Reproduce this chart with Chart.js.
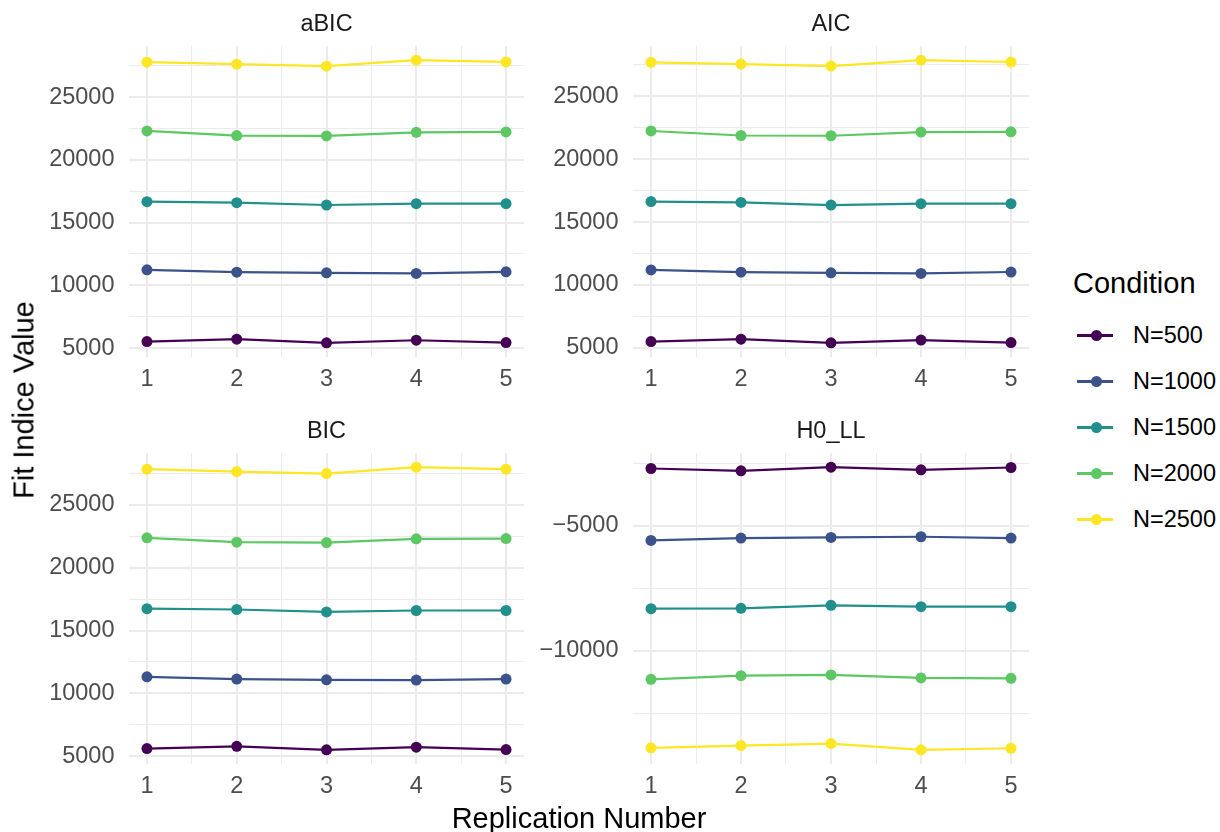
<!DOCTYPE html>
<html>
<head>
<meta charset="utf-8">
<title>Fit indices by replication</title>
<script src="https://cdn.jsdelivr.net/npm/chart.js@4.4.1/dist/chart.umd.min.js"></script>
<style>
  html, body { margin: 0; padding: 0; background: #fff; }
  body {
    width: 1220px; height: 832px; position: relative; overflow: hidden;
    font-family: 'Liberation Sans', Arial, sans-serif;
  }
  canvas { position: absolute; }
  .strip {
    position: absolute; font-size: 23.5px; line-height: 23.5px; color: #1a1a1a;
    transform: translateX(-50%); white-space: nowrap;
  }
  .axis-title { position: absolute; font-size: 29px; line-height: 29px; color: #000; white-space: nowrap; }
  #ytitle { left: 24px; top: 400px; transform: translate(-50%, -50%) rotate(-90deg); }
  #xtitle { left: 579px; top: 804px; transform: translateX(-50%); }
  #legendTitle { left: 1073px; top: 269px; }
  .key-line { position: absolute; left: 1077px; width: 36px; height: 2.2px; }
  .key-dot { position: absolute; left: 1090.5px; width: 11px; height: 11px; border-radius: 50%; }
  .key-label { position: absolute; left: 1133px; font-size: 23.5px; line-height: 23.5px; color: #000; white-space: nowrap; }
</style>
</head>
<body>
<canvas id="c_aBIC"></canvas>
<canvas id="c_AIC"></canvas>
<canvas id="c_BIC"></canvas>
<canvas id="c_H0_LL"></canvas>

<div class="strip" style="left:326.5px; top:12px">aBIC</div>
<div class="strip" style="left:831px; top:12px">AIC</div>
<div class="strip" style="left:326.5px; top:418.5px">BIC</div>
<div class="strip" style="left:831px; top:418.5px">H0_LL</div>

<div class="axis-title" id="ytitle">Fit Indice Value</div>
<div class="axis-title" id="xtitle">Replication Number</div>
<div class="axis-title" id="legendTitle">Condition</div>
<div id="legend"></div>

<script>
const replications = [1, 2, 3, 4, 5]
const conditions = ['N=500', 'N=1000', 'N=1500', 'N=2000', 'N=2500']
const palette = ['#440154', '#3B528B', '#21908C', '#5DC863', '#FDE725']

// one row per condition, one value per replication
const aBIC = [
  [5520, 5710, 5420, 5630, 5440],
  [11240, 11050, 11000, 10950, 11080],
  [16670, 16590, 16400, 16510, 16510],
  [22300, 21930, 21900, 22190, 22220],
  [27780, 27620, 27460, 27940, 27800]
]
const AIC = [
  [5500, 5690, 5400, 5620, 5420],
  [11200, 11020, 10970, 10920, 11030],
  [16630, 16560, 16350, 16460, 16460],
  [22240, 21880, 21860, 22150, 22170],
  [27700, 27560, 27400, 27870, 27720]
]
const BIC = [
  [5610, 5790, 5510, 5720, 5530],
  [11320, 11140, 11080, 11060, 11140],
  [16740, 16670, 16480, 16590, 16590],
  [22370, 22020, 21990, 22290, 22310],
  [27830, 27640, 27480, 27990, 27830]
]
const H0_LL = [
  [-2714, -2806, -2660, -2766, -2674],
  [-5585, -5492, -5465, -5439, -5492],
  [-8311, -8298, -8178, -8231, -8231],
  [-11130, -10984, -10957, -11077, -11090],
  [-13867, -13775, -13696, -13947, -13883]
]

const xMajor = [1, 2, 3, 4, 5]
const xMinor = [1.5, 2.5, 3.5, 4.5]
const icMajor = [5000, 10000, 15000, 20000, 25000]
const icMinor = [7500, 12500, 17500, 22500, 27500]
const llMajor = [-10000, -5000]
const llMinor = [-12500, -7500, -2500]

Chart.defaults.font.family = "'Liberation Sans', Arial, sans-serif"

const GRID = '#EBEBEB'
const TICK = '#4D4D4D'
const FONT = { size: 23.5 }

function range(values) {
  const flat = values.flat()
  const lo = Math.min(...flat)
  const hi = Math.max(...flat)
  const pad = (hi - lo) * 0.05
  return [lo - pad, hi + pad]
}

function fmt(v) {
  return v < 0 ? '\u2212' + Math.abs(v) : String(v)
}

// box: canvas position/size on page + plot area inside canvas
function makePanel(id, values, major, minor, box) {
  const el = document.getElementById(id)
  el.width = box.w
  el.height = box.h
  el.style.left = box.x + 'px'
  el.style.top = box.y + 'px'
  el.style.width = box.w + 'px'
  el.style.height = box.h + 'px'

  const [ymin, ymax] = range(values)
  const datasets = conditions.map((name, i) => ({
    label: name,
    data: replications.map((r, j) => ({ x: r, y: values[i][j] })),
    borderColor: palette[i],
    backgroundColor: palette[i],
    pointBackgroundColor: palette[i],
    borderWidth: 2.2,
    pointRadius: 5.5,
    pointBorderWidth: 0,
    tension: 0
  }))

  return new Chart(el.getContext('2d'), {
    type: 'line',
    data: { datasets },
    options: {
      responsive: false,
      animation: false,
      events: [],
      layout: { padding: { left: 0, top: box.top, right: box.w - box.right, bottom: 0 } },
      plugins: { legend: { display: false }, tooltip: { enabled: false } },
      scales: {
        x: {
          type: 'linear',
          min: 0.8,
          max: 5.2,
          afterBuildTicks: (ax) => {
            ax.ticks = [...xMajor, ...xMinor].sort((a, b) => a - b).map(v => ({ value: v }))
          },
          afterFit: (ax) => { ax.height = box.h - box.bottom },
          border: { display: false },
          grid: {
            color: GRID,
            drawTicks: false,
            lineWidth: (c) => (xMajor.includes(c.tick.value) ? 2 : 1)
          },
          ticks: {
            autoSkip: false,
            maxRotation: 0,
            padding: 8,
            color: TICK,
            font: FONT,
            callback: (v) => (xMajor.includes(v) ? String(v) : '')
          }
        },
        y: {
          type: 'linear',
          min: ymin,
          max: ymax,
          afterBuildTicks: (ax) => {
            ax.ticks = [...major, ...minor].sort((a, b) => a - b).map(v => ({ value: v }))
          },
          afterFit: (ax) => { ax.width = box.left },
          border: { display: false },
          grid: {
            color: GRID,
            drawTicks: false,
            lineWidth: (c) => (major.includes(c.tick.value) ? 2 : 1)
          },
          ticks: {
            autoSkip: false,
            padding: 14.5,
            color: TICK,
            font: FONT,
            callback: (v) => (major.includes(v) ? fmt(v) : '')
          }
        }
      }
    }
  })
}

function buildLegend() {
  const root = document.getElementById('legend')
  conditions.forEach((name, i) => {
    const cy = 335.5 + i * 46
    const line = document.createElement('div')
    line.className = 'key-line'
    line.style.top = (cy - 1.1) + 'px'
    line.style.background = palette[i]
    const dot = document.createElement('div')
    dot.className = 'key-dot'
    dot.style.top = (cy - 5.5) + 'px'
    dot.style.background = palette[i]
    const label = document.createElement('div')
    label.className = 'key-label'
    label.style.top = (cy - 11.75) + 'px'
    label.textContent = name
    root.appendChild(line)
    root.appendChild(dot)
    root.appendChild(label)
  })
}

makePanel('c_aBIC', aBIC, icMajor, icMinor, { x: 0, y: 0, w: 530, h: 400, left: 129, right: 524, top: 46, bottom: 357 })
makePanel('c_AIC', AIC, icMajor, icMinor, { x: 530, y: 0, w: 510, h: 400, left: 103, right: 499, top: 46, bottom: 357 })
makePanel('c_BIC', BIC, icMajor, icMinor, { x: 0, y: 400, w: 530, h: 432, left: 129, right: 524, top: 53, bottom: 364 })
makePanel('c_H0_LL', H0_LL, llMajor, llMinor, { x: 530, y: 400, w: 510, h: 432, left: 103, right: 499, top: 53, bottom: 364 })
buildLegend()
</script>
</body>
</html>
